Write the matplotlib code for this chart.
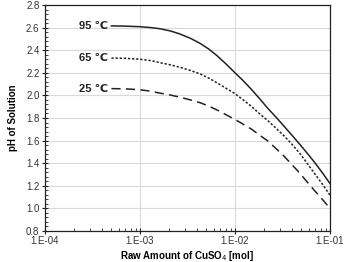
import numpy as np
import matplotlib.pyplot as plt
from matplotlib.ticker import FixedLocator, MultipleLocator, LogLocator, NullFormatter

plt.rcParams['font.family'] = ['Liberation Sans', 'DejaVu Sans']

# data
cuso4 = [5e-4, 7e-4, 1e-3, 1.3e-3, 1.62e-3, 2.1e-3, 2.6e-3, 3.4e-3, 4.3e-3, 5.3e-3,
         6.5e-3, 8e-3, 1e-2, 1.22e-2, 1.5e-2, 1.8e-2, 2.19e-2, 2.7e-2, 3.3e-2, 4e-2,
         4.83e-2, 5.8e-2, 7e-2, 8.4e-2, 1e-1]
ph_95 = [2.615, 2.613, 2.608, 2.60, 2.59, 2.57, 2.545, 2.505, 2.46, 2.41,
         2.35, 2.28, 2.20, 2.13, 2.05, 1.975, 1.89, 1.808, 1.725, 1.645,
         1.565, 1.485, 1.40, 1.31, 1.22]
ph_65 = [2.33, 2.328, 2.32, 2.308, 2.29, 2.27, 2.25, 2.22, 2.19, 2.153,
         2.11, 2.065, 2.015, 1.96, 1.90, 1.84, 1.78, 1.71, 1.64, 1.565,
         1.485, 1.395, 1.30, 1.21, 1.117]
ph_25 = [2.06, 2.058, 2.05, 2.037, 2.02, 2.003, 1.985, 1.96, 1.935, 1.905,
         1.87, 1.83, 1.787, 1.745, 1.70, 1.65, 1.60, 1.53, 1.46, 1.385,
         1.31, 1.23, 1.15, 1.075, 1.00]
labels = ["95 \u2103", "65 \u2103", "25 \u2103"]
xtick_labels = ["1.E-04", "1.E-03", "1.E-02", "1.E-01"]

fig = plt.figure(figsize=(3.44, 2.62), dpi=100)
ax = fig.add_axes([45/344, 31/262, 285/344, 226/262])

ax.plot(cuso4, ph_95, color='#222222', lw=1.1, ls='-')
ax.plot(cuso4, ph_65, color='#222222', lw=1.1, ls=(0, (1.5, 1.2)))
ax.plot(cuso4, ph_25, color='#222222', lw=1.1, ls=(0, (6, 3.5)))

for lab, ys in zip(labels, [ph_95, ph_65, ph_25]):
    ax.text(4.6e-4, ys[0], lab, ha='right', va='center', fontsize=8,
            fontweight='bold', color='#222222')

ax.set_xscale('log')
ax.set_xlim(1e-4, 1e-1)
ax.set_ylim(0.8, 2.8)
ax.xaxis.set_major_locator(FixedLocator([1e-4, 1e-3, 1e-2, 1e-1]))
ax.set_xticklabels(xtick_labels)
ax.xaxis.set_minor_locator(LogLocator(base=10, subs=np.arange(2, 10)))
ax.xaxis.set_minor_formatter(NullFormatter())
ax.yaxis.set_major_locator(MultipleLocator(0.2))
ax.yaxis.set_minor_locator(MultipleLocator(0.04))
ax.yaxis.set_major_formatter(plt.FormatStrFormatter('%.1f'))

ax.grid(True, which='major', color='#d9d9d9', lw=0.8)
ax.set_axisbelow(True)
ax.tick_params(which='major', direction='inout', length=4, width=0.8,
               labelsize=7, colors='#222222', labelcolor='#333333')
ax.tick_params(axis='x', which='major', pad=1.5)
ax.tick_params(axis='y', which='major', pad=2)
ax.tick_params(which='minor', direction='in', length=2, width=0.6, colors='#222222')
for s in ax.spines.values():
    s.set_color('#222222')
    s.set_linewidth(0.9)

ax.set_xlabel("Raw Amount of CuSO$_4$ [mol]", fontsize=7, fontweight='bold', labelpad=2)
ax.set_ylabel("pH of Solution", fontsize=7, fontweight='bold', labelpad=6)

fig.savefig("out.png", dpi=100)
